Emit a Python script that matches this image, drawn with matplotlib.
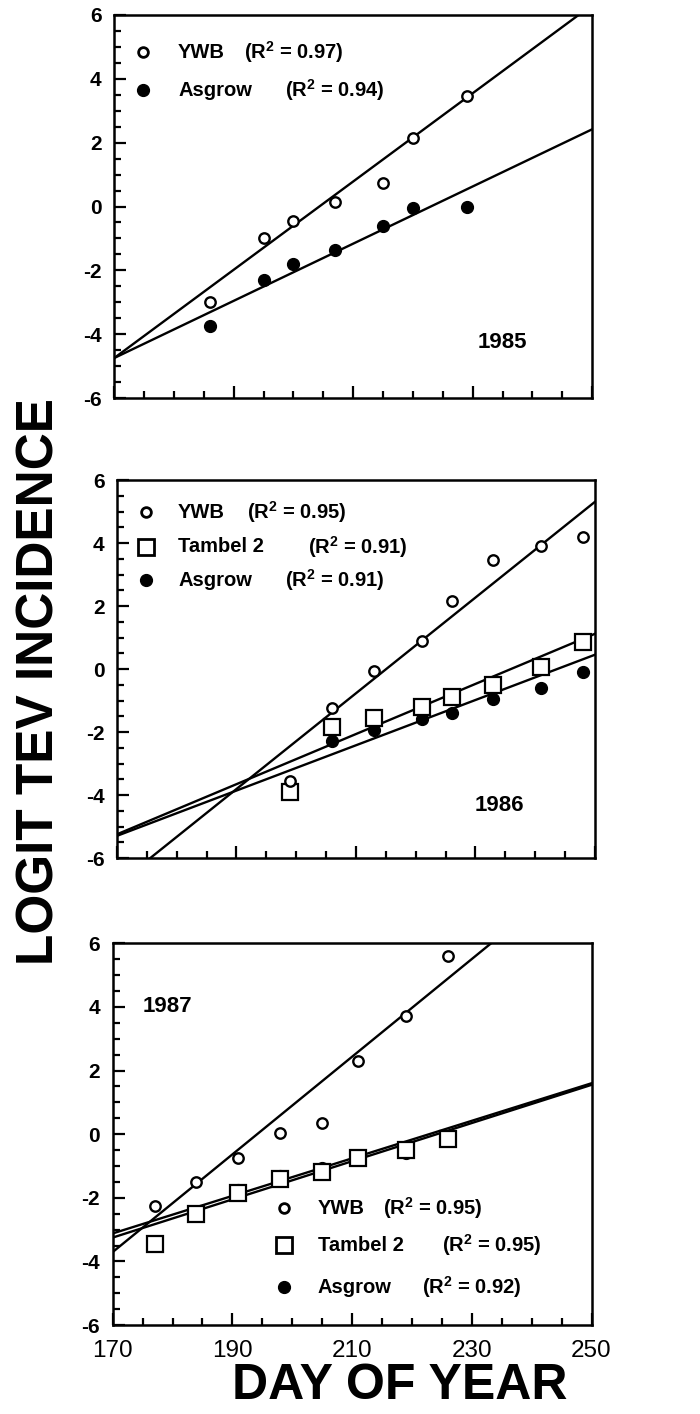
import numpy as np
import matplotlib
matplotlib.use("Agg")
import matplotlib.pyplot as plt
from matplotlib.ticker import MultipleLocator

plt.rcParams['font.family'] = ['Liberation Sans', 'DejaVu Sans']
plt.rcParams['mathtext.fontset'] = 'custom'
plt.rcParams['mathtext.rm'] = 'Liberation Sans'
plt.rcParams['mathtext.bf'] = 'Liberation Sans:bold'
plt.rcParams['mathtext.default'] = 'regular'
plt.rcParams['axes.unicode_minus'] = False

# --- data ---
days_1985 = [186, 195, 200, 207, 215, 220, 229]
ywb_1985 = [-3.0, -1.0, -0.45, 0.15, 0.75, 2.15, 3.45]
asgrow_1985 = [-3.75, -2.3, -1.8, -1.35, -0.6, -0.05, 0.0]

days_1986 = [199, 206, 213, 221, 226, 233, 241, 248]
ywb_1986 = [-3.55, -1.25, -0.05, 0.9, 2.15, 3.45, 3.9, 4.2]
tambel_1986 = [-3.9, -1.85, -1.55, -1.2, -0.9, -0.5, 0.05, 0.85]
asgrow_1986 = [-3.85, -2.3, -1.95, -1.6, -1.4, -0.95, -0.6, -0.1]

days_1987 = [177, 184, 191, 198, 205, 211, 219, 226]
ywb_1987 = [-2.25, -1.5, -0.75, 0.05, 0.35, 2.3, 3.7, 5.6]
tambel_1987 = [-3.45, -2.5, -1.85, -1.4, -1.2, -0.75, -0.5, -0.15]
asgrow_1987 = [-3.4, -2.45, -1.75, -1.3, -1.05, -0.7, -0.6, -0.15]

# regression lines: (intercept, slope) of logit vs day
fit_1985 = {'YWB': (-28.26, 0.1383), 'Asgrow': (-19.98, 0.0896)}
fit_1986 = {'YWB': (-32.69, 0.152), 'Tambel 2': (-18.78, 0.0796), 'Asgrow': (-17.52, 0.0719)}
fit_1987 = {'YWB': (-29.80, 0.1535), 'Tambel 2': (-13.15, 0.059), 'Asgrow': (-13.45, 0.060)}

r2_1985 = {'YWB': 0.97, 'Asgrow': 0.94}
r2_1986 = {'YWB': 0.95, 'Tambel 2': 0.91, 'Asgrow': 0.91}
r2_1987 = {'YWB': 0.95, 'Tambel 2': 0.95, 'Asgrow': 0.92}

x_ticks = [170, 190, 210, 230, 250]

styles = {
    'YWB': dict(marker='o', ms=7.5, mfc='white', mec='black', mew=1.7),
    'Tambel 2': dict(marker='s', ms=11, mfc='white', mec='black', mew=1.6),
    'Asgrow': dict(marker='o', ms=8.5, mfc='black', mec='black', mew=1),
}
legend_styles = {
    'YWB': dict(marker='o', ms=7, mfc='white', mec='black', mew=2.0),
    'Tambel 2': dict(marker='s', ms=11, mfc='white', mec='black', mew=2.0),
    'Asgrow': dict(marker='o', ms=8.5, mfc='black', mec='black'),
}

fig = plt.figure(figsize=(7, 14.14), dpi=100)
ax1 = fig.add_axes([0.163, 0.7185, 0.683, 0.2709])
ax2 = fig.add_axes([0.167, 0.3932, 0.683, 0.2673])
ax3 = fig.add_axes([0.161, 0.0629, 0.684, 0.2700])

xs = np.linspace(170, 250, 2)


def setup(ax, show_x):
    ax.set_xlim(170, 250)
    ax.set_ylim(-6, 6)
    ax.set_xticks(x_ticks)
    ax.xaxis.set_minor_locator(MultipleLocator(5))
    ax.yaxis.set_major_locator(MultipleLocator(2))
    ax.yaxis.set_minor_locator(MultipleLocator(0.5))
    ax.tick_params(which='both', direction='in', top=False, right=False, width=1.6)
    ax.tick_params(which='major', length=8.5)
    ax.tick_params(which='minor', length=5)
    ax.tick_params(axis='y', pad=9, labelsize=15)
    ax.tick_params(axis='x', pad=11, labelsize=17.5, labelbottom=show_x)
    for t in ax.get_yticklabels():
        t.set_fontweight('bold')
    for s in ax.spines.values():
        s.set_linewidth(1.8)


def legend(ax, rows, x_marker, x_name, y_rows, x_r2):
    for (name, r2), y, xr in zip(rows, y_rows, x_r2):
        ax.plot([x_marker], [y], transform=ax.transAxes, ls='none',
                clip_on=False, **legend_styles[name])
        ax.text(x_name, y, name, transform=ax.transAxes, fontsize=14.5,
                fontweight='bold', va='center', ha='left')
        ax.text(xr, y, "(R$^2$ = %.2f)" % r2, transform=ax.transAxes,
                fontsize=14.5, fontweight='bold', va='center', ha='left')


# 1985
setup(ax1, False)
for name, (a, b) in fit_1985.items():
    ax1.plot(xs, a + b * xs, color='black', lw=1.7)
ax1.plot(days_1985, asgrow_1985, ls='none', **styles['Asgrow'])
ax1.plot(days_1985, ywb_1985, ls='none', **styles['YWB'])
legend(ax1, list(r2_1985.items()), 0.061, 0.134, [0.903, 0.804], [0.272, 0.358])
ax1.text(0.812, 0.144, "1985", transform=ax1.transAxes, fontsize=16,
         fontweight='bold', ha='center', va='center')

# 1986
setup(ax2, False)
for name, (a, b) in fit_1986.items():
    ax2.plot(xs, a + b * xs, color='black', lw=1.7)
ax2.plot(days_1986, asgrow_1986, ls='none', **styles['Asgrow'])
ax2.plot(days_1986, tambel_1986, ls='none', **styles['Tambel 2'])
ax2.plot(days_1986, ywb_1986, ls='none', **styles['YWB'])
legend(ax2, list(r2_1986.items()), 0.061, 0.128, [0.915, 0.823, 0.735],
       [0.272, 0.40, 0.351])
ax2.text(0.801, 0.140, "1986", transform=ax2.transAxes, fontsize=16,
         fontweight='bold', ha='center', va='center')

# 1987
setup(ax3, True)
for name, (a, b) in fit_1987.items():
    ax3.plot(xs, a + b * xs, color='black', lw=1.7)
ax3.plot(days_1987, asgrow_1987, ls='none', **styles['Asgrow'])
ax3.plot(days_1987, tambel_1987, ls='none', **styles['Tambel 2'])
ax3.plot(days_1987, ywb_1987, ls='none', **styles['YWB'])
legend(ax3, list(r2_1987.items()), 0.357, 0.428, [0.306, 0.209, 0.099],
       [0.564, 0.687, 0.647])
ax3.text(0.115, 0.835, "1987", transform=ax3.transAxes, fontsize=16,
         fontweight='bold', ha='center', va='center')

fig.text(0.057, 0.518, "LOGIT TEV INCIDENCE", rotation=90, fontsize=37,
         fontweight='bold', ha='center', va='center')
fig.text(0.571, 0.0198, "DAY OF YEAR", fontsize=36, fontweight='bold',
         ha='center', va='center')

fig.savefig("out.png", dpi=100)
